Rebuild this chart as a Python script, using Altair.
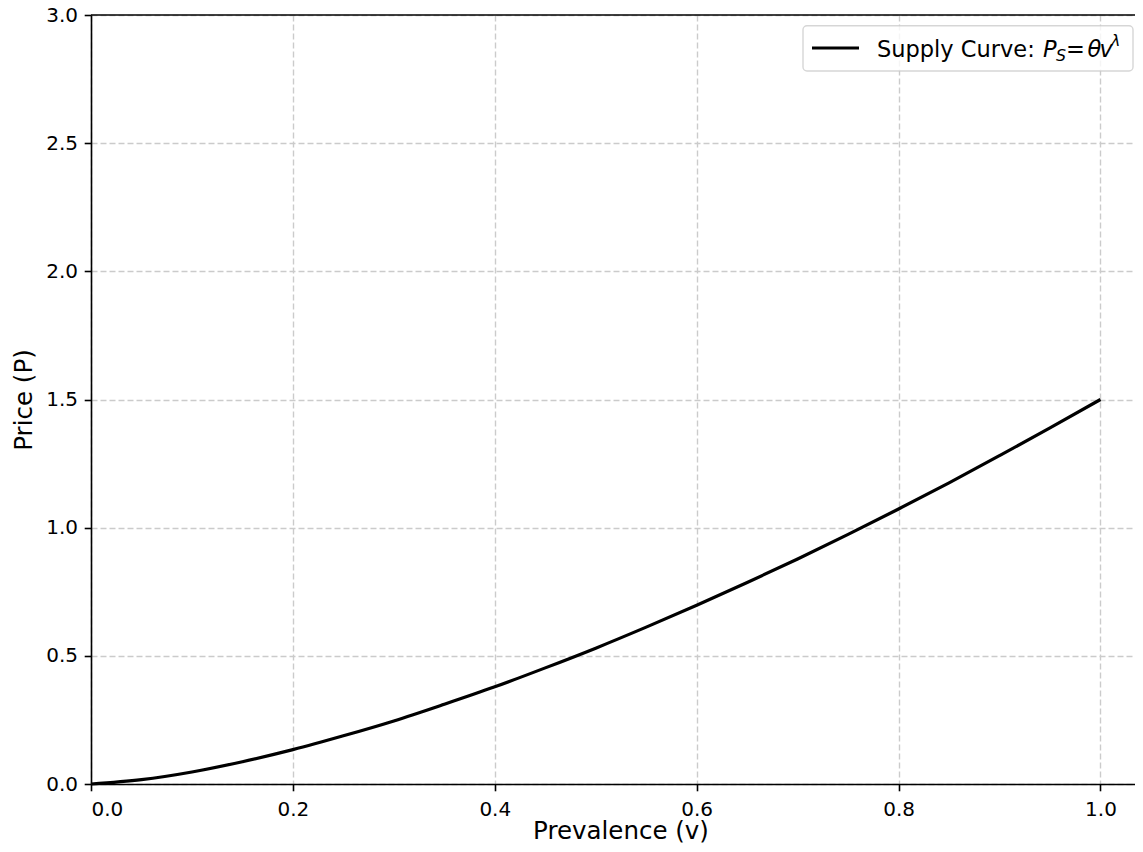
import altair as alt
import pandas as pd

# Values
prevalence = [0.0, 0.05, 0.10, 0.15, 0.20, 0.25, 0.30, 0.35, 0.40, 0.45, 0.50,
              0.55, 0.60, 0.65, 0.70, 0.75, 0.80, 0.85, 0.90, 0.95, 1.0]
price = [0.0, 0.017, 0.047, 0.087, 0.134, 0.188, 0.246, 0.311, 0.379, 0.453, 0.530,
         0.612, 0.697, 0.786, 0.878, 0.974, 1.073, 1.175, 1.281, 1.389, 1.5]
x_ticks = [0.0, 0.2, 0.4, 0.6, 0.8, 1.0]
y_ticks = [0.0, 0.5, 1.0, 1.5, 2.0, 2.5, 3.0]

W, H = 1044, 769
df = pd.DataFrame({"v": prevalence, "P": price})
one = pd.DataFrame({"k": [0]})

FONT = "DejaVu Sans"

x_axis = alt.Axis(values=x_ticks, format=".1f", title="Prevalence (v)",
                  labelFontSize=20, labelPadding=8.5, tickSize=6.8,
                  titleFontSize=24.5, titleFontWeight="normal",
                  titleX=529.5, titleY=54.5, titleAlign="center",
                  titleBaseline="alphabetic", titleAngle=0)
y_axis = alt.Axis(values=y_ticks, format=".1f", title="Price (P)",
                  labelFontSize=20, labelPadding=6.7, tickSize=6.8,
                  titleFontSize=24.5, titleFontWeight="normal",
                  titleX=-59.5, titleY=H / 2, titleAlign="center",
                  titleBaseline="alphabetic", titleAngle=270)

line = alt.Chart(df).mark_line(color="black", strokeWidth=3.2, interpolate="monotone").encode(
    x=alt.X("v:Q", scale=alt.Scale(domain=[0, 1.0342], nice=False, zero=False), axis=x_axis),
    y=alt.Y("P:Q", scale=alt.Scale(domain=[0, 3.0], nice=False), axis=y_axis),
)

top_spine = alt.Chart(one).mark_rule(color="black", strokeWidth=1.6).encode(
    x=alt.value(0), x2=alt.value(W), y=alt.value(0)
)

legend_box = alt.Chart(one).mark_rect(
    fill="white", fillOpacity=0.8, stroke="#cccccc", strokeOpacity=0.8,
    strokeWidth=1.4, cornerRadius=4
).encode(x=alt.value(712), x2=alt.value(1042), y=alt.value(10.7), y2=alt.value(56))

legend_line = alt.Chart(one).mark_rule(color="black", strokeWidth=3.2).encode(
    x=alt.value(721), x2=alt.value(768), y=alt.value(33)
)

def txt(s, x, y, size=22.5, style="normal"):
    return alt.Chart(one).mark_text(
        text=s, align="left", baseline="alphabetic", font=FONT,
        fontSize=size, fontStyle=style, color="black"
    ).encode(x=alt.value(x), y=alt.value(y))

legend_texts = [
    txt("Supply Curve:", 786, 41.5),
    txt("P", 952, 41.5, style="italic"),
    txt("S", 965, 45.5, size=15.8, style="italic"),
    txt("=", 975, 41.5),
    txt("θ", 996.5, 41.5, style="italic"),
    txt("v", 1008.5, 41.5, style="italic"),
    txt("λ", 1020, 31, size=15.8, style="italic"),
]

chart = alt.layer(line, top_spine, legend_box, legend_line, *legend_texts).properties(
    width=W, height=H,
    autosize=alt.AutoSizeParams(type="none"),
    padding={"left": 83, "top": 7, "right": 0, "bottom": 60},
).configure_view(stroke=None).configure_axis(
    grid=True, gridColor="#cbcbcb", gridDash=[6, 3], gridWidth=1.4,
    domainColor="black", domainWidth=1.6, tickColor="black", tickWidth=1.6,
    labelColor="black", titleColor="black", labelFont=FONT, titleFont=FONT,
)

chart.save("out.html", embed_options={"renderer": "svg", "actions": False})
